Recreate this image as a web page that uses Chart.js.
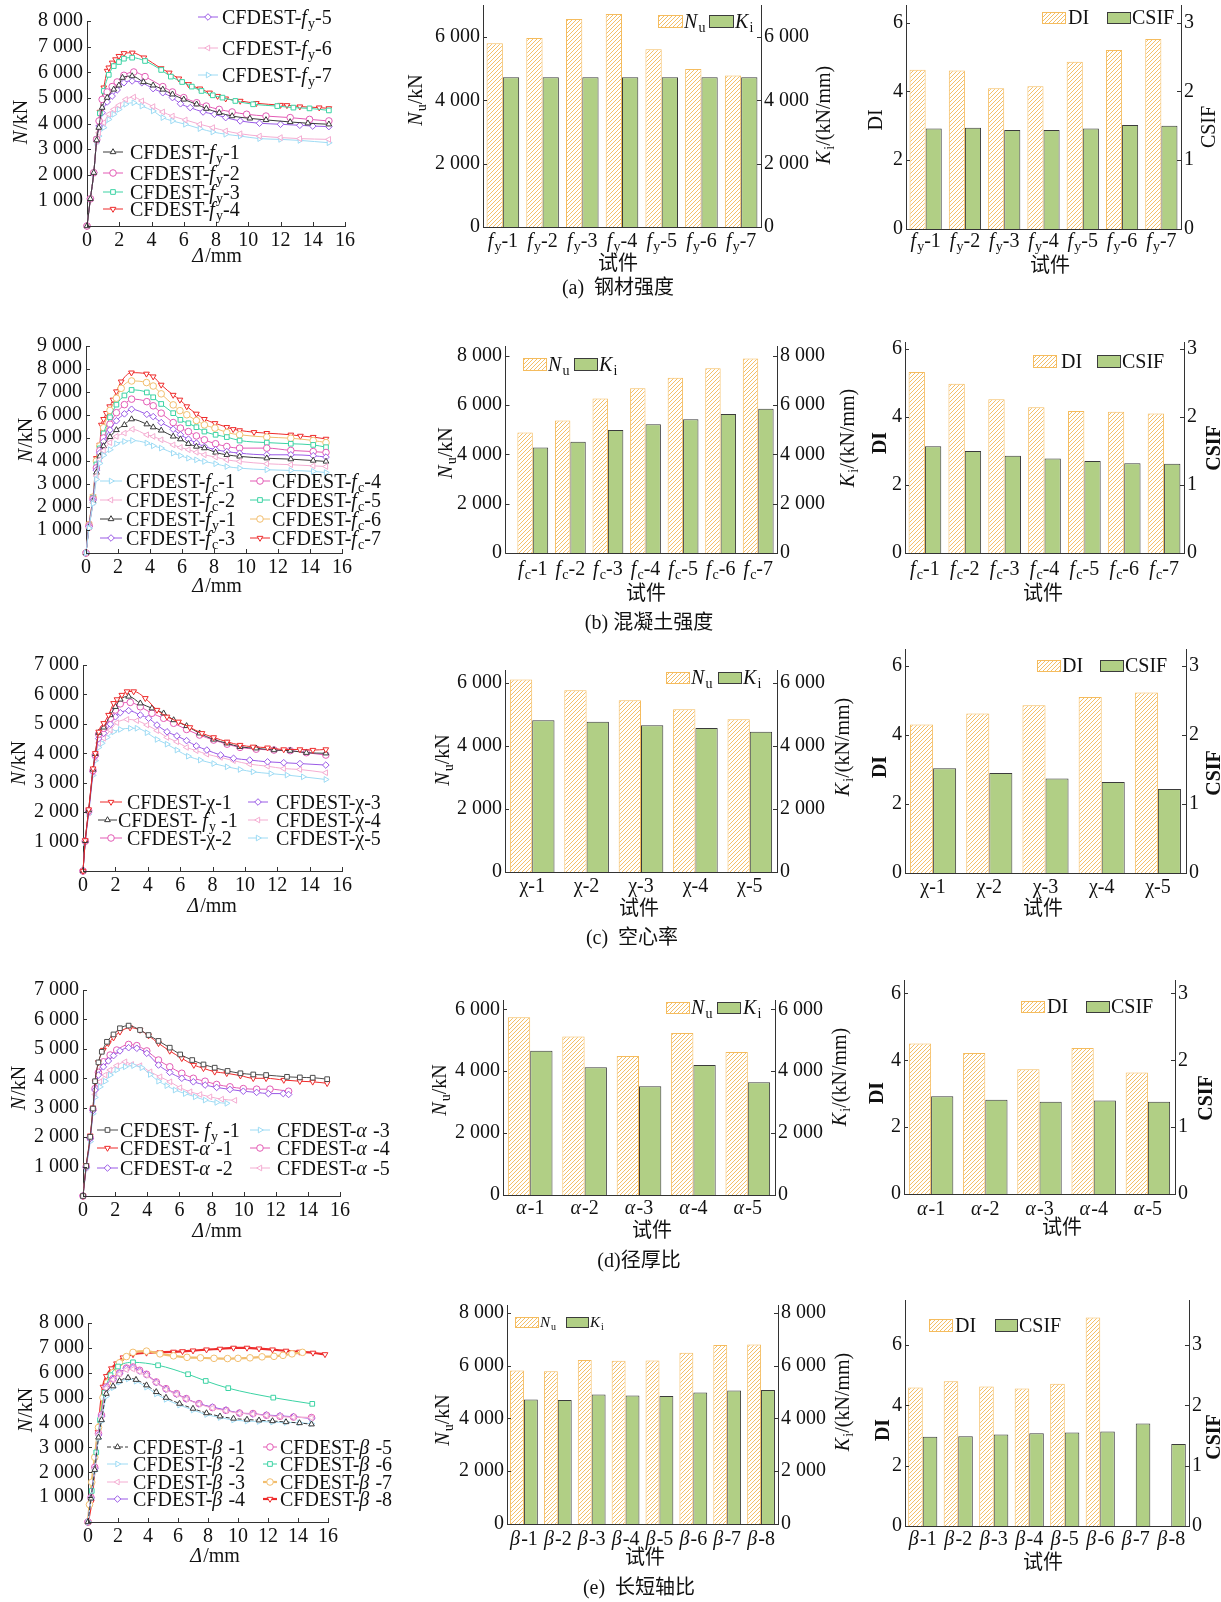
<!DOCTYPE html>
<html>
<head>
<meta charset="utf-8">
<script src="https://cdn.jsdelivr.net/npm/chart.js@4.4.1/dist/chart.umd.min.js"></script>
<style>
html, body { margin: 0; padding: 0; background: #fff; }
#page { position: relative; width: 1221px; height: 1602px; overflow: hidden; background: #fff; }
#page canvas { position: absolute; }
.cap { position: absolute; width: 400px; text-align: center; font: 20px "Liberation Serif", "Noto Sans CJK SC", serif; color: #111; line-height: 24px; white-space: pre; }
</style>
</head>
<body>
<div id="page"></div>
<script>
// ---------------- (a) steel strength ----------------
const fyLabels = ['*f*_{y}-1', '*f*_{y}-2', '*f*_{y}-3', '*f*_{y}-4', '*f*_{y}-5', '*f*_{y}-6', '*f*_{y}-7'];
const fyNu = [5810, 5970, 6570, 6730, 5620, 4990, 4790];
const fyKi = [4730, 4730, 4730, 4730, 4730, 4730, 4730];
const fyDI = [4.63, 4.61, 4.09, 4.15, 4.86, 5.20, 5.52];
const fyCSIF = [1.46, 1.47, 1.44, 1.44, 1.46, 1.51, 1.50];

const curveFy1 = [[0,0],[0.21,1060],[0.42,2080],[0.6,3350],[0.73,3840],[0.94,4620],[1.25,5010],[1.66,5330],[1.98,5490],[2.2,5790],[2.8,5850],[3.5,5620],[4.1,5490],[4.7,5330],[5.3,5140],[6.0,4940],[6.8,4750],[7.4,4580],[8.2,4420],[9.0,4290],[10.1,4200],[11.1,4140],[12.6,4060],[13.7,4010],[15.0,3970]];
const curveFy2 = [[0,0],[0.21,1060],[0.42,2080],[0.6,3380],[0.75,4100],[0.94,4940],[1.25,5230],[1.56,5440],[1.87,5620],[2.29,5880],[2.9,6010],[3.6,5830],[4.7,5440],[5.3,5230],[6.0,5010],[6.8,4810],[7.4,4680],[8.2,4550],[9.0,4450],[9.9,4360],[11.1,4290],[12.6,4230],[13.8,4160],[15.0,4100]];
const curveFy3 = [[0,0],[0.21,1060],[0.42,2080],[0.6,3400],[0.8,4400],[1.04,5270],[1.35,5900],[1.66,6240],[1.98,6400],[2.29,6530],[2.8,6570],[3.6,6440],[4.6,6090],[5.2,5830],[5.9,5620],[6.5,5440],[7.1,5270],[7.8,5100],[8.4,5010],[9.2,4880],[10.3,4750],[11.8,4680],[12.8,4620],[13.8,4590],[15.0,4510]];
const curveFy4 = [[0,0],[0.21,1060],[0.42,2080],[0.6,3400],[0.8,4450],[1.04,5400],[1.25,6050],[1.35,6180],[1.56,6370],[1.77,6500],[1.98,6630],[2.29,6740],[2.81,6760],[3.53,6570],[4.6,6150],[5.1,5980],[5.7,5750],[6.3,5530],[7.0,5360],[7.6,5200],[8.1,5070],[8.6,4970],[9.5,4880],[10.5,4790],[12.0,4720],[12.4,4710],[13.2,4660],[14.4,4620],[15.0,4590]];
const curveFy5 = [[0,0],[0.21,1060],[0.42,2080],[0.6,3350],[0.75,3900],[0.94,4420],[1.25,4840],[1.56,5070],[1.87,5310],[2.29,5590],[2.8,5660],[3.4,5590],[4.1,5360],[4.7,5200],[5.3,5010],[5.8,4770],[6.4,4620],[7.2,4450],[7.9,4360],[8.6,4230],[9.5,4100],[10.7,4010],[12.0,3970],[13.2,3930],[14.0,3900],[15.0,3880]];
const curveFy6 = [[0,0],[0.21,1050],[0.42,2060],[0.6,3300],[0.73,3640],[1.04,4030],[1.35,4360],[1.66,4550],[1.98,4710],[2.4,4940],[2.9,5030],[3.4,4880],[4.1,4660],[4.7,4450],[5.3,4290],[6.1,4140],[7.0,3970],[7.8,3840],[8.6,3710],[9.5,3600],[10.7,3510],[12.0,3450],[13.2,3410],[15.0,3380]];
const curveFy7 = [[0,0],[0.21,1040],[0.42,2040],[0.6,3250],[0.73,3510],[1.04,3840],[1.35,4160],[1.66,4360],[1.98,4550],[2.4,4750],[2.9,4810],[3.4,4680],[4.1,4490],[4.7,4230],[5.3,4100],[6.1,3970],[7.0,3800],[7.8,3670],[8.6,3580],[9.5,3510],[10.7,3410],[12.0,3380],[13.2,3340],[15.0,3250]];

// ---------------- (b) concrete strength ----------------
const fcLabels = ['*f*_{c}-1', '*f*_{c}-2', '*f*_{c}-3', '*f*_{c}-4', '*f*_{c}-5', '*f*_{c}-6', '*f*_{c}-7'];
const fcNu = [4890, 5380, 6270, 6690, 7110, 7500, 7890];
const fcKi = [4280, 4510, 4990, 5220, 5430, 5640, 5850];
const fcDI = [5.32, 4.97, 4.52, 4.28, 4.17, 4.15, 4.10];
const fcCSIF = [1.57, 1.50, 1.43, 1.39, 1.35, 1.32, 1.31];

const curveFc1 = [[0,0],[0.19,1080],[0.44,2150],[0.65,3200],[0.86,3900],[1.1,4250],[1.5,4490],[1.9,4750],[2.4,4850],[2.9,4890],[3.8,4780],[4.2,4660],[4.7,4560],[5.45,4340],[5.9,4230],[6.4,4120],[6.9,4050],[7.4,3980],[8.1,3880],[8.8,3760],[9.6,3690],[11.3,3620],[12.8,3590],[14.2,3550],[15.0,3500]];
const curveFc2 = [[0,0],[0.19,1100],[0.44,2200],[0.65,3350],[0.86,4050],[1.1,4450],[1.5,4800],[1.9,5070],[2.4,5210],[2.9,5380],[3.8,5140],[4.2,5070],[4.7,4920],[5.45,4700],[5.9,4590],[6.4,4490],[6.9,4380],[7.4,4270],[8.1,4170],[8.8,4050],[9.6,3980],[11.3,3880],[12.8,3840],[14.2,3790],[15.0,3760]];
const curveFcRef = [[0,0],[0.19,1120],[0.44,2250],[0.65,3500],[0.86,4200],[1.1,4650],[1.5,5050],[1.9,5350],[2.4,5570],[2.85,5820],[3.8,5600],[4.2,5470],[4.7,5330],[5.45,5070],[5.9,4950],[6.4,4750],[6.9,4630],[7.4,4560],[8.1,4370],[8.8,4270],[9.6,4200],[11.3,4120],[12.8,4080],[14.2,4020],[15.0,3980]];
const curveFc3 = [[0,0],[0.19,1150],[0.44,2300],[0.65,3600],[0.86,4350],[1.1,4850],[1.5,5350],[1.9,5750],[2.4,6050],[2.85,6250],[3.8,6030],[4.2,5930],[4.7,5670],[5.45,5380],[5.9,5140],[6.4,4950],[6.9,4780],[7.4,4630],[8.1,4490],[8.8,4410],[9.6,4340],[11.3,4270],[12.8,4270],[14.2,4230],[15.0,4170]];
const curveFc4 = [[0,0],[0.19,1180],[0.44,2350],[0.65,3700],[0.86,4450],[1.1,5000],[1.5,5600],[1.9,6100],[2.4,6450],[2.85,6690],[3.8,6580],[4.2,6400],[4.7,6080],[5.45,5670],[5.9,5430],[6.4,5280],[6.9,5090],[7.4,4920],[8.1,4750],[8.8,4630],[9.6,4560],[11.3,4560],[12.8,4460],[14.2,4410],[15.0,4370]];
const curveFc5 = [[0,0],[0.19,1200],[0.44,2400],[0.65,3850],[0.86,4550],[1.1,5200],[1.5,5900],[1.9,6450],[2.4,6850],[2.85,7090],[3.8,6980],[4.2,6770],[4.7,6480],[5.45,6080],[5.9,5790],[6.4,5640],[6.9,5470],[7.4,5280],[8.1,5140],[8.8,5040],[9.6,4890],[11.3,4800],[12.8,4750],[14.2,4700],[15.0,4600]];
const curveFc6 = [[0,0],[0.19,1230],[0.44,2430],[0.65,4000],[0.86,4650],[1.1,5450],[1.5,6200],[1.9,6730],[2.2,7160],[2.85,7480],[3.78,7410],[4.2,7260],[4.7,6920],[5.45,6440],[5.87,6190],[6.3,6010],[6.9,5760],[7.4,5570],[8.06,5430],[8.8,5240],[9.6,5140],[11.3,5040],[12.8,4990],[14.2,4890],[15.0,4800]];
const curveFc7 = [[0,0],[0.19,1270],[0.44,2460],[0.65,4120],[0.86,4700],[0.96,5570],[1.1,5820],[1.27,6080],[1.48,6370],[1.69,6660],[1.9,7020],[2.2,7450],[2.84,7840],[3.78,7790],[4.2,7670],[4.7,7310],[5.45,6870],[5.87,6660],[6.3,6370],[6.9,6050],[7.4,5820],[8.06,5640],[8.8,5470],[9.2,5380],[9.6,5330],[10.5,5250],[11.3,5210],[12.8,5140],[13.4,5090],[14.2,5040],[15.0,4960]];

// ---------------- (c) hollow ratio ----------------
const chiLabels = ['χ-1', 'χ-2', 'χ-3', 'χ-4', 'χ-5'];
const chiNu = [6100, 5760, 5440, 5160, 4840];
const chiKi = [4810, 4760, 4650, 4560, 4440];
const chiDI = [4.31, 4.63, 4.87, 5.11, 5.24];
const chiCSIF = [1.52, 1.45, 1.37, 1.32, 1.22];

const curveChi1 = [[0,0],[0.14,1040],[0.35,2090],[0.62,3480],[0.76,4000],[0.97,4730],[1.28,5020],[1.58,5300],[1.89,5700],[2.1,5830],[2.4,5980],[2.72,6100],[3.13,6100],[3.85,5870],[4.57,5470],[5.19,5240],[5.9,5070],[6.6,4880],[7.35,4680],[8.07,4540],[8.9,4390],[9.7,4280],[10.5,4220],[11.4,4190],[12.4,4130],[13.4,4130],[14.2,4110],[15.0,4130]];
const curveChiRef = [[0,0],[0.14,1030],[0.35,2070],[0.62,3450],[0.76,3980],[0.97,4700],[1.28,4880],[1.69,5300],[2.0,5580],[2.3,5830],[2.82,5930],[3.54,5700],[4.26,5530],[4.98,5360],[5.6,5130],[6.4,4930],[7.2,4680],[8.07,4470],[8.9,4340],[9.7,4220],[10.7,4170],[11.8,4110],[12.8,4090],[13.8,4020],[15.0,4000]];
const curveChi2 = [[0,0],[0.14,1020],[0.35,2050],[0.62,3420],[0.76,3950],[0.97,4650],[1.28,4850],[1.69,5190],[2.0,5470],[2.3,5680],[2.92,5730],[3.54,5580],[4.26,5360],[4.98,5190],[5.6,5020],[6.4,4810],[7.2,4620],[8.07,4450],[8.9,4310],[9.7,4200],[10.7,4140],[11.8,4110],[12.8,4090],[13.8,4020],[15.0,3940]];
const curveChi3 = [[0,0],[0.14,1000],[0.35,2000],[0.62,3380],[0.76,3900],[0.97,4500],[1.28,4680],[1.69,4990],[2.0,5240],[2.3,5380],[2.82,5450],[3.54,5300],[4.05,5190],[4.57,4960],[5.19,4730],[5.8,4590],[6.4,4430],[7.0,4250],[7.65,4110],[8.5,3940],[9.3,3830],[10.3,3770],[11.4,3710],[12.4,3680],[13.4,3650],[15.0,3600]];
const curveChi4 = [[0,0],[0.14,990],[0.35,1980],[0.62,3350],[0.76,3850],[0.97,4350],[1.28,4510],[1.69,4790],[2.1,5040],[2.72,5150],[3.33,5110],[3.95,4960],[4.57,4770],[5.19,4540],[5.8,4390],[6.4,4200],[7.0,4090],[7.65,3970],[8.5,3860],[9.3,3750],[10.3,3630],[11.4,3560],[12.4,3480],[13.4,3450],[15.0,3340]];
const curveChi5 = [[0,0],[0.14,960],[0.35,1930],[0.62,3250],[0.76,3750],[0.97,4200],[1.17,4340],[1.48,4540],[1.89,4730],[2.3,4810],[2.92,4850],[3.33,4850],[3.95,4700],[4.57,4470],[5.19,4310],[5.8,4110],[6.5,3900],[7.24,3770],[8.07,3650],[8.9,3540],[9.7,3450],[10.5,3370],[11.6,3310],[12.6,3260],[13.6,3200],[15.0,3110]];

// ---------------- (d) diameter-thickness ratio ----------------
const alphaLabels = ['*α*-1', '*α*-2', '*α*-3', '*α*-4', '*α*-5'];
const alphaNu = [5740, 5120, 4490, 5230, 4620];
const alphaKi = [4660, 4130, 3510, 4200, 3640];
const alphaDI = [4.50, 4.22, 3.73, 4.37, 3.63];
const alphaCSIF = [1.46, 1.41, 1.38, 1.40, 1.38];

const curveAlphaRef = [[0,0],[0.2,1020],[0.45,2010],[0.62,2970],[0.75,3900],[0.96,4540],[1.17,4900],[1.49,5240],[1.9,5490],[2.3,5700],[2.84,5790],[3.55,5640],[4.08,5470],[4.7,5270],[5.4,5040],[6.05,4810],[6.8,4620],[7.5,4470],[8.2,4360],[9.0,4250],[9.8,4170],[10.6,4130],[11.4,4110],[12.7,4050],[13.5,4030],[14.3,4020],[15.2,3970]];
const curveAlpha1 = [[0,0],[0.2,1040],[0.45,2050],[0.62,3000],[0.75,3880],[0.96,4540],[1.27,4960],[1.58,5190],[1.9,5380],[2.3,5580],[2.93,5720],[3.55,5640],[4.08,5450],[4.7,5190],[5.4,4930],[6.15,4680],[6.9,4450],[7.5,4340],[8.2,4220],[8.95,4170],[9.8,4090],[10.6,4000],[11.4,4000],[12.5,3940],[13.5,3900],[14.3,3880],[15.2,3830]];
const curveAlpha2 = [[0,0],[0.2,980],[0.45,1950],[0.62,2900],[0.75,3600],[0.96,4110],[1.27,4390],[1.58,4590],[1.9,4770],[2.3,4930],[2.84,5040],[3.35,5020],[3.97,4850],[4.7,4450],[5.4,4200],[6.15,4000],[6.87,3880],[7.6,3770],[8.32,3690],[9.15,3620],[9.98,3560],[10.81,3520],[11.54,3480],[12.47,3480],[12.8,3450]];
const curveAlpha3 = [[0,0],[0.2,930],[0.45,1850],[0.62,2800],[0.75,3350],[1.06,3710],[1.38,3900],[1.69,4110],[2.1,4280],[2.62,4390],[3.14,4430],[3.66,4360],[4.18,4130],[4.7,3900],[5.21,3750],[5.73,3600],[6.36,3480],[6.98,3370],[7.6,3260],[8.32,3180],[8.95,3150]];
const curveAlpha4 = [[0,0],[0.2,1000],[0.45,1980],[0.62,2950],[0.75,3650],[0.96,4200],[1.27,4560],[1.69,4790],[2.1,4960],[2.84,5150],[3.35,5110],[3.97,4930],[4.7,4620],[5.4,4390],[6.15,4170],[6.87,4000],[7.6,3900],[8.32,3790],[9.15,3710],[9.98,3650],[10.81,3630],[11.64,3630],[12.8,3560]];
const curveAlpha5 = [[0,0],[0.2,950],[0.45,1900],[0.62,2850],[0.75,3450],[1.06,3880],[1.38,4110],[1.69,4280],[2.1,4430],[2.62,4560],[3.04,4470],[3.55,4430],[4.18,4220],[4.8,4050],[5.42,3880],[6.04,3680],[6.67,3540],[7.29,3450],[7.91,3370],[8.64,3290],[9.46,3250]];

// ---------------- (e) axis ratio ----------------
const betaLabels = ['*β*-1', '*β*-2', '*β*-3', '*β*-4', '*β*-5', '*β*-6', '*β*-7', '*β*-8'];
const betaNu = [5820, 5790, 6220, 6190, 6200, 6490, 6780, 6800];
const betaKi = [4720, 4700, 4910, 4870, 4850, 4980, 5060, 5080];
const betaDI = [4.60, 4.80, 4.63, 4.56, 4.72, 6.92, null, null];
const betaCSIF = [1.48, 1.49, 1.52, 1.54, 1.55, 1.57, 1.70, 1.36];

const curveBeta1 = [[0,0],[0.2,950],[0.45,2100],[0.7,3400],[0.9,4100],[1.22,5160],[1.67,5460],[2.1,5670],[2.67,5800],[3.2,5720],[3.9,5500],[4.55,5230],[5.2,5000],[6.1,4760],[7.0,4560],[7.9,4380],[8.8,4250],[9.7,4160],[10.6,4120],[11.4,4090],[12.3,4060],[13.2,4020],[14.1,3980],[14.9,3930]];
const curveBeta2 = [[0,0],[0.2,930],[0.45,2050],[0.7,3350],[0.9,4050],[1.22,5050],[1.67,5400],[2.1,5620],[2.67,5750],[3.2,5660],[3.9,5420],[4.55,5150],[5.2,4930],[6.1,4700],[7.0,4500],[7.9,4320],[8.8,4200],[9.7,4100],[10.6,4060],[11.4,4040],[12.3,4020],[13.2,4000],[14.1,3990],[14.9,3950]];
const curveBeta3 = [[0,0],[0.2,960],[0.45,2150],[0.7,3500],[0.9,4200],[1.22,5380],[1.67,5720],[2.1,5950],[2.56,6120],[3.0,6150],[3.44,6050],[3.9,5900],[4.55,5600],[5.2,5330],[5.9,5130],[6.55,4940],[7.4,4740],[8.3,4580],[9.2,4470],[10.1,4370],[11.0,4340],[11.9,4280],[12.8,4240],[13.7,4210],[14.9,4190]];
const curveBeta4 = [[0,0],[0.2,970],[0.45,2150],[0.7,3500],[0.9,4250],[1.22,5400],[1.67,5740],[2.1,5980],[2.56,6170],[3.0,6200],[3.44,6070],[3.9,5920],[4.55,5610],[5.2,5340],[5.9,5140],[6.55,4950],[7.4,4750],[8.3,4620],[9.2,4500],[10.1,4380],[11.0,4340],[11.9,4300],[12.8,4270],[13.7,4230],[14.9,4160]];
const curveBeta5 = [[0,0],[0.2,980],[0.45,2200],[0.7,3550],[0.9,4300],[1.22,5430],[1.67,5760],[2.1,5990],[2.56,6190],[3.0,6230],[3.44,6100],[3.9,5940],[4.55,5630],[5.2,5360],[5.9,5160],[6.55,4960],[7.4,4760],[8.3,4600],[9.2,4490],[10.1,4380],[11.0,4360],[11.9,4290],[12.8,4250],[13.7,4220],[14.9,4200]];
const curveBeta6 = [[0,0],[0.25,1250],[0.55,2800],[0.8,4100],[1.1,5200],[1.5,5900],[2.0,6250],[3.0,6420],[4.67,6300],[6.67,5940],[7.85,5670],[9.35,5380],[12.35,5000],[14.95,4750]];
const curveBeta7 = [[0,0],[0.1,700],[0.25,1600],[0.45,2600],[0.7,3800],[1.0,5000],[1.3,5600],[1.67,6000],[2.1,6400],[2.56,6650],[3.0,6820],[3.9,6870],[4.8,6760],[5.7,6680],[6.6,6620],[7.5,6600],[8.4,6580],[9.3,6570],[10.0,6580],[10.8,6600],[11.6,6640],[12.4,6660],[13.0,6700],[13.6,6760],[14.3,6820]];
const curveBeta8 = [[0,0],[0.22,800],[0.67,3620],[1.0,5430],[1.22,5860],[1.56,6170],[1.9,6370],[2.33,6610],[3.0,6740],[3.9,6800],[4.8,6820],[5.7,6840],[6.3,6860],[7.0,6890],[7.9,6930],[8.8,6960],[9.7,7000],[10.6,7000],[11.4,6970],[12.3,6930],[13.2,6880],[14.1,6840],[15.0,6800],[15.8,6740]];

// ---------------- drawing helpers ----------------
const FONT = '"Liberation Serif", "Noto Sans CJK SC", serif';
const INK = '#111';
const AXIS = '#333';
const C_BLACK = '#3a3a3a', C_PINK = '#E35BB5', C_TEAL = '#3CD3A4', C_RED = '#EE2B2B',
      C_PURPLE = '#9A5AE6', C_LPINK = '#F4ADD2', C_LBLUE = '#9EDBF4', C_ORANGE = '#F2BE6E', C_GRAY = '#4d4d4d';
const BAR_EDGE = '#F5BC5E', BAR_HATCH = '#F4BF68', BAR_GREEN = '#B1CF85', BAR_GREEN_EDGE = '#3b3b3b';

Chart.defaults.font.family = FONT;
Chart.defaults.font.size = 20;
Chart.defaults.color = INK;

const MARK = {
  up: { style: 'triangle', rot: 0 }, down: { style: 'triangle', rot: 180 },
  left: { style: 'triangle', rot: 270 }, right: { style: 'triangle', rot: 90 },
  circle: { style: 'circle', rot: 0 }, rect: { style: 'rect', rot: 0 }, diamond: { style: 'rectRot', rot: 0 }
};

const fmtK = v => String(v).replace(/\B(?=(\d{3})+(?!\d))/g, ' ');

// evenly stepped tick values for an axis
function stepTicks(max, step) {
  const out = [];
  for (let k = 0; k * step <= max + 1e-9; k++) out.push({ value: Math.round(k * step * 1000) / 1000 });
  return out;
}

function parseRich(str) {
  const segs = []; let buf = ''; let it = false; let i = 0;
  const flush = () => { if (buf) segs.push({ t: buf, it, sub: false }); buf = ''; };
  while (i < str.length) {
    const ch = str[i];
    if (ch === '*') { flush(); it = !it; i++; }
    else if (ch === '_' && str[i + 1] === '{') {
      flush(); const j = str.indexOf('}', i);
      segs.push({ t: str.slice(i + 2, j), it: false, sub: true }); i = j + 1;
    } else { buf += ch; i++; }
  }
  flush();
  return segs;
}

// draws text with italic (*..*) and subscript (_{..}) runs; y is the visual middle
function drawRich(ctx, str, x, y, o) {
  o = o || {};
  const size = o.size || 20, wt = o.weight || 'normal';
  const segs = parseRich(str);
  const fnt = s => (s.it ? 'italic ' : '') + wt + ' ' + (s.sub ? Math.round(size * 0.68) : size) + 'px ' + FONT;
  let total = 0;
  segs.forEach(s => { ctx.font = fnt(s); s.w = ctx.measureText(s.t).width + (s.it ? size * 0.06 : 0); total += s.w; });
  ctx.save();
  ctx.translate(x, y);
  if (o.rot) ctx.rotate(-Math.PI / 2);
  ctx.fillStyle = o.color || INK;
  ctx.textBaseline = 'alphabetic';
  ctx.textAlign = 'left';
  let cx = o.align === 'center' ? -total / 2 : o.align === 'right' ? -total : 0;
  const base = size * 0.34;
  segs.forEach(s => { ctx.font = fnt(s); ctx.fillText(s.t, cx, base + (s.sub ? size * 0.2 : 0)); cx += s.w; });
  ctx.restore();
}

function drawMarker(ctx, ds, x, y) {
  const H = Chart.helpers;
  ctx.save();
  ctx.fillStyle = '#fff'; ctx.strokeStyle = ds.borderColor; ctx.lineWidth = 1; ctx.setLineDash([]);
  if (H && H.drawPoint) {
    H.drawPoint(ctx, { pointStyle: ds.pointStyle, rotation: ds.pointRotation || 0, radius: ds.pointRadius, borderWidth: 1 }, x, y);
  } else {
    ctx.beginPath(); ctx.arc(x, y, ds.pointRadius, 0, Math.PI * 2); ctx.fill(); ctx.stroke();
  }
  ctx.restore();
}

function mkCanvas(x, y, w, h) {
  const c = document.createElement('canvas');
  c.width = w; c.height = h;
  c.style.left = x + 'px'; c.style.top = y + 'px';
  c.style.width = w + 'px'; c.style.height = h + 'px';
  document.getElementById('page').appendChild(c);
  return c;
}

// crisp "////" hatch tile for the strength bars
function makeHatch(ctx) {
  const n = 4;
  const t = document.createElement('canvas'); t.width = n; t.height = n;
  const g = t.getContext('2d');
  g.fillStyle = '#fff'; g.fillRect(0, 0, n, n);
  g.fillStyle = BAR_HATCH;
  for (let i = 0; i < n; i++) g.fillRect(i, n - 1 - i, 1, 1);
  return ctx.createPattern(t, 'repeat');
}

// inward ticks, rich category labels, axis titles and legends
function makeDeco(c) {
  const ox = c.box[0], oy = c.box[1];
  return {
    id: 'deco',
    afterDraw(chart) {
      const ctx = chart.ctx;
      const ca = chart.chartArea;
      ctx.save();
      ctx.strokeStyle = AXIS; ctx.lineWidth = 1;
      // detached left axis line (when the bars start further in than the axis)
      if (c.plot.il != null) {
        const ax = Math.round(c.plot.l - ox) + 0.5;
        ctx.beginPath();
        ctx.moveTo(ax, ca.top); ctx.lineTo(ax, ca.bottom + 0.5);
        ctx.lineTo(ca.left, ca.bottom + 0.5);
        ctx.stroke();
      }
      Object.values(chart.scales).forEach(s => {
        if (s.type === 'category') return;
        s.ticks.forEach((t, i) => {
          const p = Math.round(s.getPixelForTick(i)) + 0.5;
          ctx.beginPath();
          if (s.position === 'left') {
            const ax = c.plot.il != null ? Math.round(c.plot.l - ox) + 0.5 : s.right;
            ctx.moveTo(ax, p); ctx.lineTo(ax + 4, p);
          } else if (s.position === 'right') { ctx.moveTo(s.left, p); ctx.lineTo(s.left - 4, p); }
          else { ctx.moveTo(p, s.top); ctx.lineTo(p, s.top - 4); }
          ctx.stroke();
        });
      });
      ctx.restore();
      if (c.catY != null) {
        const s = chart.scales.x;
        chart.data.labels.forEach((lab, i) => drawRich(ctx, lab, s.getPixelForValue(i), c.catY - oy, { size: 20, align: 'center' }));
      }
      (c.titles || []).forEach(t => drawRich(ctx, t.text, t.x - ox, t.y - oy, { size: t.size || 20, align: 'center', rot: t.rot, weight: t.weight }));
      (c.lineLegend || []).forEach(it => {
        const ds = chart.data.datasets[it.i];
        ctx.save();
        ctx.strokeStyle = ds.borderColor; ctx.lineWidth = ds.borderWidth;
        ctx.setLineDash(ds.borderDash || []);
        ctx.beginPath(); ctx.moveTo(it.x1 - ox, it.y - oy); ctx.lineTo(it.x2 - ox, it.y - oy); ctx.stroke();
        ctx.restore();
        drawMarker(ctx, ds, (it.x1 + it.x2) / 2 - ox, it.y - oy);
        drawRich(ctx, ds.label, it.tx - ox, it.y - oy, { size: it.size || 20 });
      });
      (c.barLegend || []).forEach(it => {
        const ds = chart.data.datasets[it.i];
        const x = Math.round(it.x - ox) + 0.5, y = Math.round(it.y - oy - it.h / 2) + 0.5;
        ctx.save();
        ctx.fillStyle = ds.backgroundColor; ctx.fillRect(x, y, it.w, it.h);
        ctx.strokeStyle = ds.borderColor; ctx.lineWidth = 1; ctx.strokeRect(x, y, it.w, it.h);
        ctx.restore();
        drawRich(ctx, ds.label, it.tx - ox, it.y - oy, { size: it.size || 20 });
      });
    }
  };
}

function line(label, pts, color, marker, extra) {
  const m = MARK[marker];
  return Object.assign({
    label, data: pts.map(p => ({ x: p[0], y: p[1] })),
    borderColor: color, backgroundColor: '#fff', borderWidth: 1,
    pointStyle: m.style, pointRotation: m.rot, pointRadius: 3.3, pointBorderWidth: 1,
    pointBackgroundColor: '#fff', pointBorderColor: color,
    cubicInterpolationMode: 'monotone', clip: false
  }, extra || {});
}

function col(idx, x1, x2, tx, ys) {
  return idx.map((i, k) => ({ i, x1, x2, tx, y: ys[k] }));
}

const tickFont = { family: FONT, size: 20 };

function lineChart(c) {
  const [bx, by, bw, bh] = c.box;
  const cv = mkCanvas(bx, by, bw, bh);
  return new Chart(cv, {
    type: 'line',
    data: { datasets: c.series },
    options: {
      responsive: false, animation: false, devicePixelRatio: 1, events: [],
      layout: { padding: { left: 0, top: c.plot.t - by, right: bx + bw - c.plot.r, bottom: 0 } },
      plugins: { legend: { display: false }, tooltip: { enabled: false } },
      scales: {
        x: {
          type: 'linear', min: 0, max: 16,
          ticks: { autoSkip: false, maxRotation: 0, padding: 3, color: INK, font: tickFont },
          afterBuildTicks: s => { s.ticks = stepTicks(16, 2); },
          grid: { display: false, drawTicks: false }, border: { color: AXIS, width: 1 },
          afterFit: s => { s.height = by + bh - c.plot.b; s.paddingLeft = 0; s.paddingRight = 0; }
        },
        y: {
          min: 0, max: c.yMax,
          ticks: { autoSkip: false, callback: v => (v === 0 ? '' : fmtK(v)), padding: 4, color: INK, font: tickFont },
          afterBuildTicks: s => { s.ticks = stepTicks(c.yMax, 1000); },
          grid: { display: false, drawTicks: false }, border: { color: AXIS, width: 1 },
          afterFit: s => { s.width = c.plot.l - bx; s.paddingTop = 0; s.paddingBottom = 0; }
        }
      }
    },
    plugins: [makeDeco(c)]
  });
}

function barChart(c) {
  const [bx, by, bw, bh] = c.box;
  const cv = mkCanvas(bx, by, bw, bh);
  const pat = makeHatch(cv.getContext('2d'));
  const fmt = c.fmt || (v => String(v));
  const innerL = c.plot.il != null ? c.plot.il : c.plot.l;
  const detached = c.plot.il != null;
  return new Chart(cv, {
    type: 'bar',
    data: {
      labels: c.cats,
      datasets: [
        { label: c.aName, data: c.a, yAxisID: 'y', backgroundColor: pat, borderColor: BAR_EDGE, borderWidth: 1 },
        { label: c.bName, data: c.b, yAxisID: 'y2', backgroundColor: BAR_GREEN, borderColor: BAR_GREEN_EDGE, borderWidth: 1 }
      ]
    },
    options: {
      responsive: false, animation: false, devicePixelRatio: 1, events: [],
      datasets: { bar: { categoryPercentage: 0.82, barPercentage: 1 } },
      layout: { padding: { left: 0, top: c.plot.t - by, right: 0, bottom: 0 } },
      plugins: { legend: { display: false }, tooltip: { enabled: false } },
      scales: {
        x: {
          type: 'category', offset: true, ticks: { display: false },
          grid: { display: false, drawTicks: false }, border: { color: AXIS, width: 1 },
          afterFit: s => { s.height = by + bh - c.plot.b; s.paddingLeft = 0; s.paddingRight = 0; }
        },
        y: {
          position: 'left', min: 0, max: c.max1,
          ticks: { autoSkip: false, callback: fmt, padding: 3 + (innerL - c.plot.l), color: INK, font: tickFont },
          afterBuildTicks: s => { s.ticks = stepTicks(c.max1, c.step1); },
          grid: { display: false, drawTicks: false }, border: { display: !detached, color: AXIS, width: 1 },
          afterFit: s => { s.width = innerL - bx; s.paddingTop = 0; s.paddingBottom = 0; }
        },
        y2: {
          position: 'right', min: 0, max: c.max2,
          ticks: { autoSkip: false, callback: fmt, padding: 3, color: INK, font: tickFont },
          afterBuildTicks: s => { s.ticks = stepTicks(c.max2, c.step2); },
          grid: { display: false, drawTicks: false }, border: { color: AXIS, width: 1 },
          afterFit: s => { s.width = bx + bw - c.plot.r; s.paddingTop = 0; s.paddingBottom = 0; }
        }
      }
    },
    plugins: [makeDeco(c)]
  });
}

function caption(text, x, y) {
  const d = document.createElement('div');
  d.className = 'cap'; d.textContent = text;
  d.style.left = (x - 200) + 'px'; d.style.top = (y - 12) + 'px';
  document.getElementById('page').appendChild(d);
}

// ================= row (a) =================
lineChart({
  box: [0, 0, 410, 300], plot: { l: 87, t: 21, r: 345, b: 226 }, yMax: 8000,
  series: [
    line('CFDEST-*f*_{y}-1', curveFy1, C_BLACK, 'up'),
    line('CFDEST-*f*_{y}-2', curveFy2, C_PINK, 'circle'),
    line('CFDEST-*f*_{y}-3', curveFy3, C_TEAL, 'rect'),
    line('CFDEST-*f*_{y}-4', curveFy4, C_RED, 'down'),
    line('CFDEST-*f*_{y}-5', curveFy5, C_PURPLE, 'diamond'),
    line('CFDEST-*f*_{y}-6', curveFy6, C_LPINK, 'left'),
    line('CFDEST-*f*_{y}-7', curveFy7, C_LBLUE, 'right')
  ],
  lineLegend: col([4, 5, 6], 198, 218, 222, [17, 48, 75]).concat(col([0, 1, 2, 3], 103, 123, 130, [152, 173, 192, 209])),
  titles: [{ text: '*N*/kN', x: 20, y: 122, rot: true }, { text: '*Δ*/mm', x: 217, y: 255 }]
});
barChart({
  box: [400, 0, 460, 300], plot: { l: 483, t: 5.5, r: 761, b: 227 },
  cats: fyLabels, a: fyNu, b: fyKi, aName: '*N*_{u}', bName: '*K*_{i}',
  max1: 7000, step1: 2000, max2: 7000, step2: 2000, fmt: fmtK, catY: 240,
  barLegend: [{ i: 0, x: 658, y: 21, w: 24, h: 12, tx: 684 }, { i: 1, x: 709, y: 21, w: 24, h: 12, tx: 735 }],
  titles: [{ text: '*N*_{u}/kN', x: 415, y: 100, rot: true }, { text: '*K*_{i}/(kN/mm)', x: 823, y: 115, rot: true }, { text: '试件', x: 618, y: 263 }]
});
barChart({
  box: [840, 0, 381, 300], plot: { l: 906, t: 5.4, r: 1181, b: 229 },
  cats: fyLabels, a: fyDI, b: fyCSIF, aName: 'DI', bName: 'CSIF',
  max1: 6.5, step1: 2, max2: 3.25, step2: 1, catY: 240,
  barLegend: [{ i: 0, x: 1042, y: 17, w: 23, h: 11, tx: 1068 }, { i: 1, x: 1107, y: 17, w: 23, h: 11, tx: 1132 }],
  titles: [{ text: 'DI', x: 875, y: 120, rot: true }, { text: 'CSIF', x: 1208, y: 127, rot: true }, { text: '试件', x: 1050, y: 265 }]
});
caption('(a)  钢材强度', 618, 287);

// ================= row (b) =================
lineChart({
  box: [0, 300, 410, 325], plot: { l: 86, t: 346, r: 342, b: 553 }, yMax: 9000,
  series: [
    line('CFDEST-*f*_{c}-1', curveFc1, C_LBLUE, 'right'),
    line('CFDEST-*f*_{c}-2', curveFc2, C_LPINK, 'left'),
    line('CFDEST-*f*_{y}-1', curveFcRef, C_BLACK, 'up'),
    line('CFDEST-*f*_{c}-3', curveFc3, C_PURPLE, 'diamond'),
    line('CFDEST-*f*_{c}-4', curveFc4, C_PINK, 'circle'),
    line('CFDEST-*f*_{c}-5', curveFc5, C_TEAL, 'rect'),
    line('CFDEST-*f*_{c}-6', curveFc6, C_ORANGE, 'circle'),
    line('CFDEST-*f*_{c}-7', curveFc7, C_RED, 'down')
  ],
  lineLegend: col([0, 1, 2, 3], 100, 122, 126, [481, 500, 519, 538]).concat(col([4, 5, 6, 7], 250, 270, 272, [481, 500, 519, 538])),
  titles: [{ text: '*N*/kN', x: 25, y: 440, rot: true }, { text: '*Δ*/mm', x: 217, y: 585 }]
});
barChart({
  box: [400, 300, 460, 330], plot: { l: 505, il: 514, t: 346, r: 777, b: 553 },
  cats: fcLabels, a: fcNu, b: fcKi, aName: '*N*_{u}', bName: '*K*_{i}',
  max1: 8400, step1: 2000, max2: 8400, step2: 2000, fmt: fmtK, catY: 568,
  barLegend: [{ i: 0, x: 523, y: 364, w: 23, h: 12, tx: 548 }, { i: 1, x: 574, y: 364, w: 23, h: 12, tx: 599 }],
  titles: [{ text: '*N*_{u}/kN', x: 445, y: 453, rot: true }, { text: '*K*_{i}/(kN/mm)', x: 847, y: 438, rot: true }, { text: '试件', x: 646, y: 593 }]
});
barChart({
  box: [840, 300, 381, 330], plot: { l: 905, t: 342, r: 1184, b: 553 },
  cats: fcLabels, a: fcDI, b: fcCSIF, aName: 'DI', bName: 'CSIF',
  max1: 6.2, step1: 2, max2: 3.1, step2: 1, catY: 568,
  barLegend: [{ i: 0, x: 1033, y: 361, w: 23, h: 12, tx: 1061 }, { i: 1, x: 1097, y: 361, w: 23, h: 12, tx: 1122 }],
  titles: [{ text: 'DI', x: 879, y: 443, rot: true, weight: 'bold' }, { text: 'CSIF', x: 1213, y: 448, rot: true, weight: 'bold' }, { text: '试件', x: 1043, y: 593 }]
});
caption('(b) 混凝土强度', 649, 622);

// ================= row (c) =================
lineChart({
  box: [0, 630, 410, 315], plot: { l: 83, t: 665, r: 342, b: 871 }, yMax: 7000,
  series: [
    line('CFDEST-χ-1', curveChi1, C_RED, 'down'),
    line('CFDEST- *f*_{y} -1', curveChiRef, C_BLACK, 'up'),
    line('CFDEST-χ-2', curveChi2, C_PINK, 'circle'),
    line('CFDEST-χ-3', curveChi3, C_PURPLE, 'diamond'),
    line('CFDEST-χ-4', curveChi4, C_LPINK, 'left'),
    line('CFDEST-χ-5', curveChi5, C_LBLUE, 'right')
  ],
  lineLegend: [
    { i: 0, x1: 100, x2: 122, tx: 127, y: 802 },
    { i: 1, x1: 98, x2: 117, tx: 118, y: 820 },
    { i: 2, x1: 100, x2: 122, tx: 127, y: 838 }
  ].concat(col([3, 4, 5], 248, 268, 276, [802, 820, 838])),
  titles: [{ text: '*N*/kN', x: 18, y: 763, rot: true }, { text: '*Δ*/mm', x: 212, y: 905 }]
});
barChart({
  box: [400, 630, 460, 320], plot: { l: 505, t: 670, r: 777, b: 872 },
  cats: chiLabels, a: chiNu, b: chiKi, aName: '*N*_{u}', bName: '*K*_{i}',
  max1: 6400, step1: 2000, max2: 6400, step2: 2000, fmt: fmtK, catY: 885,
  barLegend: [{ i: 0, x: 666, y: 677, w: 23, h: 11, tx: 691 }, { i: 1, x: 718, y: 677, w: 23, h: 11, tx: 743 }],
  titles: [{ text: '*N*_{u}/kN', x: 442, y: 760, rot: true }, { text: '*K*_{i}/(kN/mm)', x: 842, y: 747, rot: true }, { text: '试件', x: 639, y: 908 }]
});
barChart({
  box: [840, 630, 381, 320], plot: { l: 905, t: 649, r: 1186, b: 873 },
  cats: chiLabels, a: chiDI, b: chiCSIF, aName: 'DI', bName: 'CSIF',
  max1: 6.5, step1: 2, max2: 3.25, step2: 1, catY: 886,
  barLegend: [{ i: 0, x: 1037, y: 665, w: 23, h: 11, tx: 1062 }, { i: 1, x: 1100, y: 665, w: 23, h: 11, tx: 1125 }],
  titles: [{ text: 'DI', x: 879, y: 767, rot: true, weight: 'bold' }, { text: 'CSIF', x: 1213, y: 773, rot: true, weight: 'bold' }, { text: '试件', x: 1043, y: 908 }]
});
caption('(c)  空心率', 632, 937);

// ================= row (d) =================
lineChart({
  box: [0, 955, 410, 300], plot: { l: 83, t: 990, r: 340, b: 1196 }, yMax: 7000,
  series: [
    line('CFDEST- *f*_{y} -1', curveAlphaRef, C_GRAY, 'rect'),
    line('CFDEST-*α* -1', curveAlpha1, C_RED, 'down'),
    line('CFDEST-*α* -2', curveAlpha2, C_PURPLE, 'diamond'),
    line('CFDEST-*α* -3', curveAlpha3, C_LBLUE, 'right'),
    line('CFDEST-*α* -4', curveAlpha4, C_PINK, 'circle'),
    line('CFDEST-*α* -5', curveAlpha5, C_LPINK, 'left')
  ],
  lineLegend: col([0, 1, 2], 97, 118, 120, [1130, 1148, 1168]).concat(col([3, 4, 5], 250, 270, 277, [1130, 1148, 1168])),
  titles: [{ text: '*N*/kN', x: 18, y: 1088, rot: true }, { text: '*Δ*/mm', x: 217, y: 1230 }]
});
barChart({
  box: [400, 955, 460, 320], plot: { l: 503, t: 1000, r: 775, b: 1195 },
  cats: alphaLabels, a: alphaNu, b: alphaKi, aName: '*N*_{u}', bName: '*K*_{i}',
  max1: 6300, step1: 2000, max2: 6300, step2: 2000, fmt: fmtK, catY: 1207,
  barLegend: [{ i: 0, x: 666, y: 1007, w: 23, h: 11, tx: 691 }, { i: 1, x: 717, y: 1007, w: 23, h: 11, tx: 743 }],
  titles: [{ text: '*N*_{u}/kN', x: 439, y: 1090, rot: true }, { text: '*K*_{i}/(kN/mm)', x: 839, y: 1077, rot: true }, { text: '试件', x: 652, y: 1230 }]
});
barChart({
  box: [840, 955, 381, 320], plot: { l: 904, t: 980, r: 1175, b: 1194 },
  cats: alphaLabels, a: alphaDI, b: alphaCSIF, aName: 'DI', bName: 'CSIF',
  max1: 6.4, step1: 2, max2: 3.2, step2: 1, catY: 1208,
  barLegend: [{ i: 0, x: 1021, y: 1006, w: 23, h: 11, tx: 1047 }, { i: 1, x: 1086, y: 1006, w: 23, h: 11, tx: 1111 }],
  titles: [{ text: 'DI', x: 876, y: 1093, rot: true, weight: 'bold' }, { text: 'CSIF', x: 1205, y: 1098, rot: true, weight: 'bold' }, { text: '试件', x: 1062, y: 1227 }]
});
caption('(d)径厚比', 639, 1260);

// ================= row (e) =================
lineChart({
  box: [0, 1275, 410, 327], plot: { l: 88, t: 1323, r: 328, b: 1522 }, yMax: 8000,
  series: [
    line('CFDEST-*β* -1', curveBeta1, C_BLACK, 'up', { borderDash: [4, 2] }),
    line('CFDEST-*β* -2', curveBeta2, C_LBLUE, 'right'),
    line('CFDEST-*β* -3', curveBeta3, C_LPINK, 'left'),
    line('CFDEST-*β* -4', curveBeta4, C_PURPLE, 'diamond'),
    line('CFDEST-*β* -5', curveBeta5, C_PINK, 'circle'),
    line('CFDEST-*β* -6', curveBeta6, C_TEAL, 'rect'),
    line('CFDEST-*β* -7', curveBeta7, C_ORANGE, 'circle', { borderWidth: 2.2 }),
    line('CFDEST-*β* -8', curveBeta8, C_RED, 'down', { borderWidth: 2.2 })
  ],
  lineLegend: col([0, 1, 2, 3], 107, 128, 133, [1447, 1464, 1482, 1499]).concat(col([4, 5, 6, 7], 263, 277, 280, [1447, 1464, 1482, 1499])),
  titles: [{ text: '*N*/kN', x: 25, y: 1410, rot: true }, { text: '*Δ*/mm', x: 215, y: 1555 }]
});
barChart({
  box: [400, 1275, 460, 327], plot: { l: 507, t: 1305, r: 778, b: 1524 },
  cats: betaLabels, a: betaNu, b: betaKi, aName: '*N*_{u}', bName: '*K*_{i}',
  max1: 8300, step1: 2000, max2: 8300, step2: 2000, fmt: fmtK, catY: 1538,
  barLegend: [{ i: 0, x: 515, y: 1322, w: 23, h: 10, tx: 540, size: 15 }, { i: 1, x: 566, y: 1322, w: 22, h: 10, tx: 590, size: 15 }],
  titles: [{ text: '*N*_{u}/kN', x: 442, y: 1420, rot: true }, { text: '*K*_{i}/(kN/mm)', x: 842, y: 1402, rot: true }, { text: '试件', x: 645, y: 1557 }]
});
barChart({
  box: [840, 1275, 381, 327], plot: { l: 905, t: 1300, r: 1189, b: 1526 },
  cats: betaLabels, a: betaDI, b: betaCSIF, aName: 'DI', bName: 'CSIF',
  max1: 7.5, step1: 2, max2: 3.75, step2: 1, catY: 1538,
  barLegend: [{ i: 0, x: 929, y: 1325, w: 23, h: 12, tx: 955 }, { i: 1, x: 995, y: 1325, w: 22, h: 12, tx: 1019 }],
  titles: [{ text: 'DI', x: 882, y: 1430, rot: true, weight: 'bold' }, { text: 'CSIF', x: 1213, y: 1437, rot: true, weight: 'bold' }, { text: '试件', x: 1043, y: 1562 }]
});
caption('(e)  长短轴比', 639, 1587);
</script>
</body>
</html>
